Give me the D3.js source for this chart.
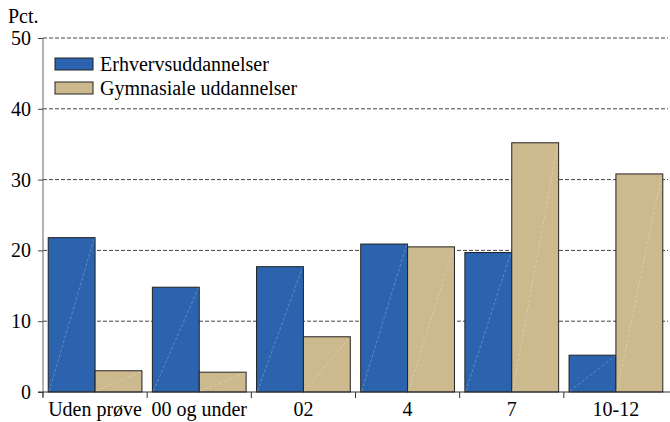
<!DOCTYPE html>
<html>
<head>
<meta charset="utf-8">
<script src="https://cdn.jsdelivr.net/npm/d3@7"></script>
</head>
<body style="margin:0; background:#fff">
<div id="chart"></div>
<script>
// data
const categories = ["Uden prøve", "00 og under", "02", "4", "7", "10-12"];
const seriesNames = ["Erhvervsuddannelser", "Gymnasiale uddannelser"];
const erhverv = [21.8, 14.8, 17.7, 20.9, 19.7, 5.2];
const gymnasiale = [3.0, 2.8, 7.8, 20.5, 35.2, 30.8];
const yTicks = [0, 10, 20, 30, 40, 50];

const colors = ["#2b63ae", "#cdb98e"];
const serif = "Liberation Serif";

const margin = {top: 38, right: 2, bottom: 30, left: 43};
const width = 670 - margin.left - margin.right;
const height = 422 - margin.top - margin.bottom;

const svg = d3.select("#chart").append("svg")
    .attr("width", 670)
    .attr("height", 422);

const g = svg.append("g")
    .attr("transform", `translate(${margin.left}, ${margin.top})`);

const x = d3.scaleBand()
    .domain(categories)
    .range([0, width])
    .paddingInner(0.1)
    .paddingOuter(0.05);

const xBand = d3.scaleBand()
    .domain(categories)
    .range([0, width]);

const xSub = d3.scaleBand()
    .domain([0, 1])
    .range([0, x.bandwidth()]);

const y = d3.scaleLinear()
    .domain([0, 50])
    .range([height, 0]);

// dashed gridlines
g.selectAll(".grid")
    .data(yTicks.filter(d => d > 0))
    .join("line")
    .attr("class", "grid")
    .attr("x1", 0)
    .attr("x2", width)
    .attr("y1", d => y(d))
    .attr("y2", d => y(d))
    .attr("stroke", "#444")
    .attr("stroke-width", 1)
    .attr("stroke-dasharray", "4,2");

// bars
const rows = categories.map((c, i) => [
    {cat: c, s: 0, v: erhverv[i]},
    {cat: c, s: 1, v: gymnasiale[i]}
]).flat();

const bars = g.selectAll(".bar")
    .data(rows)
    .join("g")
    .attr("class", "bar");

bars.append("rect")
    .attr("x", d => x(d.cat) + xSub(d.s))
    .attr("y", d => y(d.v))
    .attr("width", xSub.bandwidth())
    .attr("height", d => height - y(d.v))
    .attr("fill", d => colors[d.s])
    .attr("stroke", "#222")
    .attr("stroke-width", 1);

// faint diagonal sheen seen on every bar
bars.append("line")
    .attr("x1", d => x(d.cat) + xSub(d.s) + 1)
    .attr("y1", height - 1)
    .attr("x2", d => x(d.cat) + xSub(d.s) + xSub.bandwidth() - 1)
    .attr("y2", d => y(d.v) + 1)
    .attr("stroke", "#fff")
    .attr("stroke-opacity", 0.25)
    .attr("stroke-width", 1)
    .attr("stroke-dasharray", "3,2");

// y axis
const yAxis = d3.axisLeft(y)
    .tickValues(yTicks)
    .tickSize(5)
    .tickPadding(7);

const yG = g.append("g")
    .attr("class", "y-axis")
    .call(yAxis);
yG.select(".domain").attr("stroke", "#666").attr("d", `M-5,0.5H0V${height + 5}`);
yG.selectAll(".tick line").attr("stroke", "#444");
yG.selectAll(".tick text")
    .attr("fill", "#000")
    .attr("dy", "0.32em")
    .style("font-family", serif)
    .style("font-size", "20px");

// x axis with ticks at band boundaries
const xG = g.append("g")
    .attr("class", "x-axis")
    .attr("transform", `translate(0, ${height})`);

xG.append("line")
    .attr("x1", -5)
    .attr("x2", width + 2)
    .attr("stroke", "#333");

xG.selectAll(".xtick")
    .data(categories)
    .join("line")
    .attr("class", "xtick")
    .attr("x1", d => xBand(d))
    .attr("x2", d => xBand(d))
    .attr("y1", 0)
    .attr("y2", 6)
    .attr("stroke", "#333");

xG.selectAll(".xlabel")
    .data(categories)
    .join("text")
    .attr("class", "xlabel")
    .attr("x", d => xBand(d) + xBand.bandwidth() / 2)
    .attr("y", 24)
    .attr("text-anchor", "middle")
    .style("font-family", serif)
    .style("font-size", "20px")
    .text(d => d);

// unit label
svg.append("text")
    .attr("x", 8)
    .attr("y", 23)
    .style("font-family", serif)
    .style("font-size", "20px")
    .text("Pct.");

// legend
const legend = g.append("g")
    .attr("transform", "translate(12, 20)");

seriesNames.forEach((name, i) => {
    const row = legend.append("g")
        .attr("transform", `translate(0, ${i * 24})`);
    row.append("rect")
        .attr("width", 38)
        .attr("height", 12)
        .attr("fill", colors[i])
        .attr("stroke", "#222");
    row.append("text")
        .attr("x", 45)
        .attr("y", 6)
        .attr("dy", "0.35em")
        .style("font-family", serif)
        .style("font-size", "20px")
        .text(name);
});
</script>
</body>
</html>
